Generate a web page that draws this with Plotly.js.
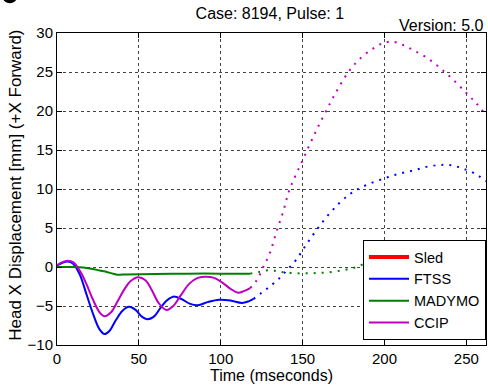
<!DOCTYPE html>
<html>
<head>
<meta charset="utf-8">
<script src="https://cdn.plot.ly/plotly-3.0.1.min.js"></script>
<style>html,body{margin:0;padding:0;background:#fff;}#chart{width:488px;height:390px;}</style>
</head>
<body>
<div id="chart"></div>
<script>
// Time (ms) and head X displacement (mm)
const sledTime = [0];
const sledDisp = [null];

const ftssTime = [0,3,6.5,10,14,18,22,26,29,32,36,40,44,48,52,55,59,63,67,71,76,81,86,92,99,106,113,117,120];
const ftssDisp = [0.2,0.5,0.7,0.4,-1,-3.5,-6,-8,-8.6,-8.2,-6.8,-5.6,-5.1,-5.5,-6.4,-6.7,-6.4,-5.3,-4.3,-3.8,-4.1,-4.7,-4.9,-4.5,-4.2,-4.3,-4.6,-4.4,-4.1];
const ftssExtTime = [120,125,130,135,140,146,152,158,165,172,178,183,190,199,208,218,227,236,242,248,255,262];
const ftssExtDisp = [-4.1,-3.3,-2.5,-1.6,-0.5,0.9,2.8,4.6,6.5,8.1,9.2,9.9,10.6,11.3,11.9,12.4,12.9,13.1,13.0,12.6,12.0,11.0];

const madymoTime = [0,10,16,20,25,30,34,37,42,60,80,100,118];
const madymoDisp = [0,0,-0.05,-0.2,-0.4,-0.6,-0.85,-1.0,-0.95,-0.9,-0.85,-0.85,-0.85];
const madymoExtTime = [118,124,130,136,145,155,165,175,183,190,197,205,213.7,222,230,238,246,252,258,262];
const madymoExtDisp = [-0.85,-0.6,-0.4,-0.6,-0.8,-0.8,-0.7,-0.4,0,0.7,1.5,2.1,2.6,2.8,2.9,2.85,2.7,2.5,2.2,1.9];

const ccipTime = [0,3,6.6,10,14,18,22,26,29,33,37,41,45,49.5,54,58,62,66.8,71,76,81,86,91,96,101,106,110.6,114,118];
const ccipDisp = [0.2,0.6,0.8,0.6,-0.5,-2.2,-4.2,-5.8,-6.3,-5.8,-4.4,-2.9,-1.8,-1.3,-1.7,-3,-4.6,-5.5,-5,-3.5,-2.1,-1.4,-1.24,-1.4,-2,-2.8,-3.3,-3.1,-2.7];
const ccipExtTime = [118,122,126,130,134,138,142,150,158.6,166.8,172,179,186,193,199,204.5,211,217.6,226,234,242,250,256,262];
const ccipExtDisp = [-2.7,-1.7,0,1.8,4.5,7,9.9,13.7,17.6,21,23,25.3,26.9,28,28.7,28.9,28.5,27.8,26.8,25.5,24,22.3,21,19.5];

const xTicks = [0,50,100,150,200,250];
const yTicks = [-10,-5,0,5,10,15,20,25,30];

const cSled = '#ff0000', cFtss = '#0000ff', cMad = '#008000', cCcip = '#c000c0';
const dotDash = '2px,6px';

const traces = [
  {x: sledTime, y: sledDisp, name: 'Sled', mode: 'lines', line: {color: cSled, width: 4}},
  {x: ftssTime, y: ftssDisp, name: 'FTSS', mode: 'lines', line: {color: cFtss, width: 2, shape: 'spline'}},
  {x: madymoTime, y: madymoDisp, name: 'MADYMO', mode: 'lines', line: {color: cMad, width: 2, shape: 'spline', smoothing: 0.6}},
  {x: ccipTime, y: ccipDisp, name: 'CCIP', mode: 'lines', line: {color: cCcip, width: 2, shape: 'spline'}},
  {x: ftssExtTime, y: ftssExtDisp, showlegend: false, mode: 'lines', line: {color: cFtss, width: 2, dash: dotDash, shape: 'spline'}},
  {x: madymoExtTime, y: madymoExtDisp, showlegend: false, mode: 'lines', line: {color: cMad, width: 2, dash: dotDash, shape: 'spline'}},
  {x: ccipExtTime, y: ccipExtDisp, showlegend: false, mode: 'lines', line: {color: cCcip, width: 2, dash: dotDash, shape: 'spline'}}
];

const font = 'Liberation Sans, Arial, sans-serif';
const axisCommon = {
  showline: true, mirror: 'ticks', linecolor: '#000', linewidth: 1,
  ticks: 'inside', ticklen: 5, tickcolor: '#000', tickwidth: 1,
  showgrid: true, gridcolor: '#444', griddash: 'dot', gridwidth: 1,
  zeroline: false, tickfont: {family: font, size: 15, color: '#000'}
};

const layout = {
  width: 488, height: 390,
  margin: {l: 57, r: 2, t: 33, b: 45},
  paper_bgcolor: '#fff', plot_bgcolor: '#fff',
  font: {family: font, color: '#000'},
  showlegend: true,
  title: {text: 'Case: 8194, Pulse: 1', font: {family: font, size: 16, color: '#000'}, x: 0.553, xanchor: 'center', y: 0.98, yanchor: 'top'},
  xaxis: Object.assign({}, axisCommon, {
    range: [0, 262], tickvals: xTicks,
    title: {text: 'Time (mseconds)', font: {family: font, size: 16, color: '#000'}, standoff: 2}
  }),
  yaxis: Object.assign({}, axisCommon, {
    range: [-10, 30], tickvals: yTicks
  }),
  legend: {
    x: 1, xanchor: 'right', y: 0.016, yanchor: 'bottom',
    bgcolor: '#fff', bordercolor: '#000', borderwidth: 1,
    font: {family: font, size: 14.5, color: '#000'},
    tracegroupgap: 0, itemwidth: 40
  },
  shapes: [
    {type: 'circle', xref: 'paper', yref: 'paper', x0: -0.127, x1: -0.093, y0: 1.095, y1: 1.14, fillcolor: '#000', line: {width: 0}}
  ],
  annotations: [
    {text: 'Version: 5.0', xref: 'paper', yref: 'paper', x: 1, xanchor: 'right', y: 1, yanchor: 'bottom', yshift: -3, showarrow: false, font: {family: font, size: 16, color: '#000'}},
    {text: 'Head X Displacement [mm] (+X Forward)', xref: 'paper', yref: 'paper', x: -0.096, xanchor: 'center', y: 0.513, yanchor: 'middle', textangle: -90, showarrow: false, font: {family: font, size: 17, color: '#000'}}
  ]
};

Plotly.newPlot('chart', traces, layout, {displayModeBar: false, staticPlot: true});
</script>
</body>
</html>
